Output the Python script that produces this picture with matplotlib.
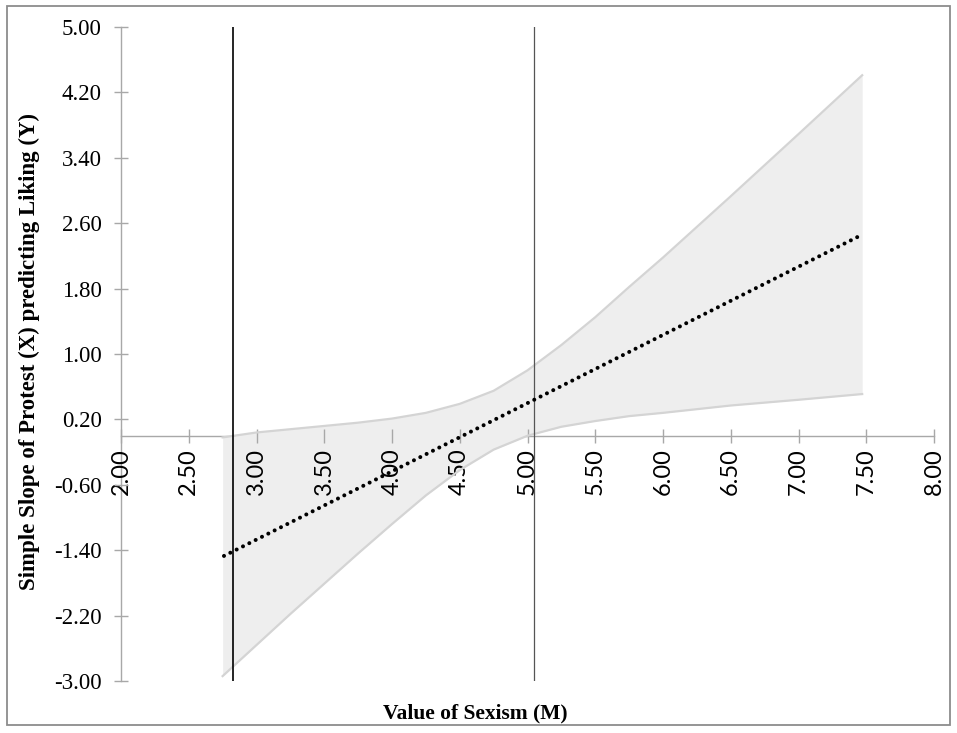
import numpy as np
import matplotlib.pyplot as plt
from matplotlib.patches import Rectangle

# Johnson-Neyman style plot: simple slope across sexism values
band_x = [2.75, 3.00, 3.25, 3.50, 3.75, 4.00, 4.25, 4.50, 4.75, 5.00,
          5.25, 5.50, 5.75, 6.00, 6.50, 7.00, 7.47]
upper = [-0.02, 0.04, 0.08, 0.12, 0.16, 0.21, 0.28, 0.39, 0.55, 0.80,
         1.11, 1.45, 1.82, 2.18, 2.93, 3.69, 4.41]
lower = [-2.94, -2.56, -2.18, -1.81, -1.44, -1.08, -0.73, -0.42, -0.17, 0.00,
         0.11, 0.18, 0.24, 0.28, 0.37, 0.44, 0.51]

slope_x = [2.76, 7.47]
slope_y = [-1.47, 2.46]

jn_points = [2.83, 5.05]

xticks = np.arange(2.0, 8.01, 0.5)
yticks = np.arange(-3.0, 5.01, 0.8)

fig = plt.figure(figsize=(9.57, 7.33), dpi=100)
ax = fig.add_axes([121 / 957, 1 - 681 / 733, (934 - 121) / 957, (681 - 27) / 733])

ax.fill_between(band_x, lower, upper, color="#eeeeee", lw=0, zorder=1)
ax.plot(band_x, upper, color="#d4d4d4", lw=1.6, zorder=2)
ax.plot(band_x, lower, color="#d4d4d4", lw=1.6, zorder=2)

ax.axvline(jn_points[0], color="black", lw=1.2, zorder=3)
ax.axvline(jn_points[1], color="#555555", lw=0.9, zorder=3)

ax.plot(slope_x, slope_y, color="black", lw=2.9, linestyle=(0, (0.01, 1.75)),
        dash_capstyle="round", zorder=4)

ax.set_xlim(2, 8)
ax.set_ylim(-3, 5)
ax.spines["top"].set_visible(False)
ax.spines["right"].set_visible(False)
ax.spines["bottom"].set_position(("data", 0))
for s in ("left", "bottom"):
    ax.spines[s].set_color("#a8a8a8")
    ax.spines[s].set_linewidth(1.0)
    ax.spines[s].set_zorder(0.5)

ax.set_xticks(xticks)
ax.set_xticklabels(["%.2f" % v for v in xticks], rotation=90,
                   family="Lato", fontsize=17)
ax.set_yticks(yticks)
ax.set_yticklabels(["%.2f" % v for v in yticks], family="Liberation Serif",
                   fontsize=16.5)
ax.tick_params(axis="x", direction="inout", length=10, width=1.0,
               color="#a8a8a8", pad=4)
ax.tick_params(axis="y", direction="inout", length=10, width=1.0,
               color="#a8a8a8", pad=9)
ax.patch.set_alpha(0)

fig.text(29 / 957, 1 - 352 / 733, "Simple Slope of Protest (X) predicting Liking (Y)",
         rotation=90, ha="center", va="center", family="Liberation Serif",
         fontweight="bold", fontsize=16.5)
fig.text(475 / 957, 1 - 713 / 733, "Value of Sexism (M)", ha="center", va="center",
         family="Liberation Serif", fontweight="bold", fontsize=15.5)

fig.add_artist(Rectangle((7 / 957, 1 - 725 / 733), 943 / 957, 719 / 733,
                         transform=fig.transFigure, fill=False,
                         edgecolor="#8c8c8c", lw=1.3))

fig.savefig("out.png", dpi=100)
